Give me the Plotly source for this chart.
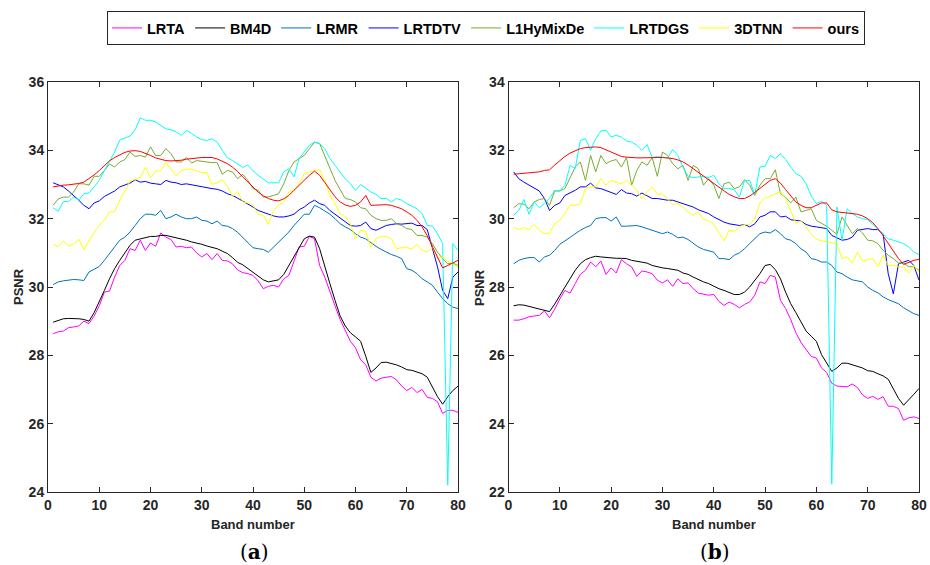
import plotly.graph_objects as go

bands = list(range(1, 81))
methods = ["LRTA", "BM4D", "LRMR", "LRTDTV", "L1HyMixDe", "LRTDGS", "3DTNN", "ours"]
colors = ["#FF00FF", "#000000", "#0072BD", "#0000FF", "#77AC30", "#00FFFF", "#FFFF00", "#FF0000"]

# ---------------- panel (a) ----------------
a_LRTA = [28.63, 28.69, 28.71, 28.81, 28.83, 28.86, 29.0, 28.93, 29.15, 29.45,
          29.85, 29.88, 30.29, 30.63, 30.78, 31.12, 31.07, 31.37, 31.07, 31.29,
          31.19, 31.58, 31.46, 31.39, 31.17, 31.19, 31.15, 31.17, 31.0, 30.88,
          30.98, 30.8, 30.98, 30.78, 30.76, 30.68, 30.5, 30.42, 30.39, 30.34,
          30.18, 29.95, 30.02, 30.05, 30.0, 30.24, 30.34, 30.73, 31.17, 31.19,
          31.48, 31.41, 30.63, 30.29, 29.85, 29.45, 29.05, 28.71, 28.41, 28.22,
          27.87, 27.72, 27.36, 27.25, 27.33, 27.36, 27.38, 27.28, 27.1, 26.97,
          27.06, 26.91, 27.0, 26.77, 26.74, 26.64, 26.3, 26.39, 26.39, 26.33]
a_BM4D = [28.97, 29.03, 29.07, 29.08, 29.08, 29.07, 29.05, 29.0, 29.25, 29.6,
          29.9, 30.24, 30.54, 30.78, 31.02, 31.22, 31.37, 31.41, 31.44, 31.48,
          31.48, 31.51, 31.51, 31.48, 31.44, 31.41, 31.37, 31.32, 31.29, 31.25,
          31.2, 31.17, 31.12, 31.05, 30.98, 30.86, 30.72, 30.65, 30.54, 30.41,
          30.31, 30.21, 30.15, 30.17, 30.21, 30.37, 30.63, 30.88, 31.17, 31.41,
          31.49, 31.46, 31.12, 30.59, 30.1, 29.61, 29.15, 28.86, 28.66, 28.54,
          28.41, 27.97, 27.5, 27.63, 27.79, 27.8, 27.77, 27.72, 27.66, 27.58,
          27.56, 27.51, 27.46, 27.36, 27.06, 26.79, 26.57, 26.79, 26.97, 27.1]
a_LRMR = [30.07, 30.15, 30.18, 30.21, 30.22, 30.21, 30.19, 30.44, 30.52, 30.6,
          30.78, 30.98, 31.17, 31.37, 31.46, 31.61, 31.8, 32.0, 32.13, 32.13,
          32.1, 32.24, 32.0, 32.05, 32.13, 32.05, 32.0, 32.0, 32.05, 31.95,
          31.93, 31.85, 31.93, 31.8, 31.78, 31.71, 31.6, 31.45, 31.29, 31.15,
          31.12, 31.1, 31.02, 31.17, 31.32, 31.46, 31.61, 31.8, 31.97, 32.13,
          32.13, 32.39, 32.32, 32.22, 32.13, 32.0, 31.85, 31.76, 31.68, 31.56,
          31.46, 31.41, 31.29, 31.19, 31.1, 31.02, 30.95, 30.9, 30.83, 30.54,
          30.49, 30.39, 30.24, 30.15, 30.05, 29.85, 29.66, 29.51, 29.41, 29.37]
a_LRTDTV = [33.05, 33.0, 32.93, 32.81, 32.68, 32.54, 32.39, 32.29, 32.46, 32.52,
            32.65, 32.73, 32.81, 32.93, 32.98, 33.04, 33.14, 33.07, 33.09, 33.04,
            33.02, 33.0, 33.12, 33.07, 33.05, 33.0, 33.02, 32.99, 32.95, 32.93,
            32.91, 32.88, 32.86, 32.81, 32.73, 32.68, 32.6, 32.52, 32.44, 32.34,
            32.24, 32.18, 32.13, 32.08, 32.05, 32.05, 32.08, 32.13, 32.26, 32.34,
            32.46, 32.54, 32.44, 32.39, 32.24, 32.13, 32.0, 31.9, 31.8, 31.78,
            31.8, 31.9, 31.71, 31.66, 31.73, 31.8, 31.83, 31.85, 31.84, 31.85,
            31.87, 31.8, 31.8, 31.68, 31.12, 30.59, 29.9, 29.66, 30.29, 30.44]
a_L1HyMixDe = [32.39, 32.58, 32.63, 32.63, 32.78, 33.02, 33.02, 32.98, 33.24, 33.24,
               33.41, 33.6, 33.51, 33.66, 33.73, 33.95, 33.82, 33.85, 33.8, 34.1,
               33.85, 33.85, 34.05, 33.9, 33.66, 33.66, 33.79, 33.63, 33.7, 33.69,
               33.66, 33.64, 33.64, 33.3, 33.41, 33.37, 33.17, 33.3, 33.12, 32.88,
               32.83, 32.63, 32.64, 32.68, 32.73, 33.02, 33.41, 33.66, 33.76, 33.85,
               34.05, 34.24, 34.2, 33.85, 33.46, 33.12, 32.85, 32.59, 32.56, 32.49,
               32.32, 32.29, 32.1, 32.0, 31.95, 31.95, 32.0, 31.85, 31.8, 31.71,
               31.68, 31.51, 31.51, 31.46, 31.27, 31.02, 30.83, 30.68, 30.7, 30.63]
a_LRTDGS = [32.32, 32.22, 32.5, 32.5, 32.63, 32.54, 32.73, 32.75, 32.93, 33.12,
            33.41, 33.69, 33.95, 34.3, 34.35, 34.42, 34.6, 34.95, 34.88, 34.88,
            34.83, 34.73, 34.63, 34.6, 34.54, 34.44, 34.58, 34.5, 34.39, 34.31,
            34.29, 34.34, 34.24, 34.0, 33.78, 33.7, 33.6, 33.5, 33.57, 33.4,
            33.27, 33.17, 33.05, 33.05, 33.05, 33.37, 33.46, 33.22, 33.76, 33.95,
            34.15, 34.24, 34.2, 34.05, 33.76, 33.56, 33.37, 33.17, 33.02, 32.83,
            33.0, 32.88, 32.78, 32.71, 32.59, 32.59, 32.49, 32.59, 32.54, 32.44,
            32.36, 32.29, 32.15, 31.8, 31.78, 31.56, 31.27, 24.2, 31.27, 31.07]
a_3DTNN = [31.25, 31.18, 31.35, 31.2, 31.25, 31.4, 31.1, 31.35, 31.6, 31.8,
           31.95, 32.2, 32.2, 32.55, 32.8, 33.1, 33.15, 33.2, 33.5, 33.2,
           33.4, 33.4, 33.65, 33.45, 33.25, 33.4, 33.45, 33.45, 33.4, 33.35,
           33.35, 33.0, 33.05, 33.15, 32.95, 32.65, 32.8, 32.49, 32.46, 32.39,
           32.13, 32.1, 31.83, 32.24, 32.39, 32.49, 32.78, 32.83, 33.02, 33.32,
           33.37, 33.41, 33.43, 33.12, 32.68, 32.44, 32.15, 32.05, 31.85, 31.41,
           31.66, 31.63, 31.17, 31.41, 31.48, 31.48, 31.41, 31.12, 31.15, 31.15,
           31.12, 31.25, 31.07, 31.02, 31.17, 30.83, 30.88, 30.76, 30.68, 30.59]
a_ours = [32.93, 32.96, 32.98, 32.99, 33.0, 33.03, 33.07, 33.17, 33.28, 33.41,
          33.56, 33.69, 33.79, 33.87, 33.94, 33.98, 33.99, 33.97, 33.92, 33.85,
          33.78, 33.73, 33.7, 33.69, 33.69, 33.71, 33.74, 33.76, 33.78, 33.79,
          33.79, 33.79, 33.75, 33.69, 33.61, 33.51, 33.38, 33.22, 33.07, 32.92,
          32.78, 32.67, 32.59, 32.54, 32.52, 32.58, 32.68, 32.83, 32.98, 33.13,
          33.27, 33.39, 33.27, 33.06, 32.83, 32.64, 32.49, 32.4, 32.36, 32.39,
          32.49, 32.68, 32.39, 32.4, 32.41, 32.41, 32.39, 32.35, 32.29, 32.2,
          32.1, 31.95, 31.76, 31.5, 31.17, 30.88, 30.56, 30.63, 30.7, 30.78]

# ---------------- panel (b) ----------------
b_LRTA = [27.03, 27.03, 27.07, 27.13, 27.15, 27.17, 27.3, 27.1, 27.35, 27.65,
          27.9, 27.82, 28.1, 28.37, 28.49, 28.73, 28.59, 28.76, 28.37, 28.56,
          28.41, 28.8, 28.68, 28.59, 28.31, 28.47, 28.44, 28.39, 28.2, 28.12,
          28.21, 28.02, 28.24, 28.1, 28.12, 27.95, 27.82, 27.8, 27.76, 27.78,
          27.58, 27.46, 27.56, 27.49, 27.39, 27.49, 27.56, 27.76, 28.15, 28.1,
          28.34, 28.29, 27.61, 27.37, 27.05, 26.66, 26.38, 26.17, 25.97, 25.92,
          25.63, 25.5, 25.18, 25.1, 25.08, 25.08, 25.16, 25.06, 24.84, 24.74,
          24.8, 24.71, 24.79, 24.51, 24.51, 24.44, 24.1, 24.17, 24.2, 24.15]
b_BM4D = [27.45, 27.48, 27.47, 27.43, 27.4, 27.37, 27.33, 27.28, 27.5, 27.74,
          28.0, 28.24, 28.49, 28.68, 28.8, 28.86, 28.9, 28.88, 28.86, 28.85,
          28.84, 28.84, 28.83, 28.78, 28.76, 28.73, 28.7, 28.63, 28.59, 28.56,
          28.54, 28.51, 28.49, 28.41, 28.37, 28.29, 28.21, 28.15, 28.1, 28.02,
          27.95, 27.9, 27.85, 27.78, 27.78, 27.85, 28.0, 28.2, 28.39, 28.63,
          28.66, 28.51, 28.24, 27.85, 27.51, 27.25, 26.96, 26.71, 26.56, 26.41,
          26.02, 25.77, 25.53, 25.63, 25.77, 25.77, 25.72, 25.67, 25.63, 25.55,
          25.53, 25.46, 25.4, 25.3, 25.03, 24.74, 24.54, 24.69, 24.86, 25.03]
b_LRMR = [28.68, 28.78, 28.83, 28.86, 28.86, 28.73, 28.88, 28.93, 29.07, 29.25,
          29.35, 29.46, 29.56, 29.66, 29.74, 29.8, 30.0, 30.03, 30.03, 29.93,
          30.05, 29.78, 29.78, 29.8, 29.8, 29.76, 29.71, 29.66, 29.61, 29.56,
          29.61, 29.54, 29.44, 29.46, 29.39, 29.29, 29.17, 29.1, 29.07, 29.02,
          28.83, 28.83, 28.8, 28.93, 29.0, 29.12, 29.27, 29.41, 29.56, 29.61,
          29.58, 29.68, 29.56, 29.41, 29.37, 29.27, 29.12, 29.02, 28.83, 28.8,
          28.73, 28.73, 28.63, 28.44, 28.39, 28.29, 28.21, 28.18, 28.15, 28.0,
          27.9, 27.83, 27.71, 27.63, 27.56, 27.51, 27.39, 27.3, 27.22, 27.17]
b_LRTDTV = [31.37, 31.17, 31.07, 30.98, 30.88, 30.81, 30.59, 30.24, 30.39, 30.46,
            30.68, 30.75, 30.83, 30.93, 30.93, 31.04, 30.9, 30.88, 30.83, 30.78,
            30.71, 30.85, 30.75, 30.73, 30.66, 30.75, 30.68, 30.59, 30.59, 30.56,
            30.54, 30.54, 30.49, 30.44, 30.39, 30.34, 30.26, 30.2, 30.15, 30.05,
            29.97, 29.9, 29.85, 29.83, 29.8, 29.83, 29.76, 29.85, 30.05, 30.1,
            30.2, 30.2, 30.05, 30.07, 29.97, 29.95, 29.93, 29.83, 29.78, 29.76,
            29.74, 29.71, 29.51, 29.44, 29.37, 29.39, 29.46, 29.66, 29.68, 29.71,
            29.68, 29.68, 29.56, 28.39, 27.8, 28.68, 28.73, 28.78, 28.63, 28.2]
b_L1HyMixDe = [30.32, 30.44, 30.42, 30.29, 30.49, 30.56, 30.59, 30.39, 30.81, 30.81,
               30.88, 31.22, 31.51, 31.66, 31.12, 31.85, 31.37, 31.85, 31.61, 31.69,
               31.73, 31.51, 31.79, 30.98, 31.41, 31.66, 31.56, 31.79, 31.24, 31.95,
               31.85, 31.61, 31.46, 31.56, 31.12, 31.56, 31.46, 30.98, 31.17, 30.98,
               30.59, 31.02, 31.07, 30.88, 30.93, 31.14, 30.98, 30.68, 30.98, 31.17,
               31.17, 31.43, 30.73, 30.63, 30.46, 30.63, 30.2, 30.24, 30.29, 29.95,
               29.87, 29.78, 29.66, 29.54, 30.05, 29.8, 29.56, 29.71, 29.58, 29.37,
               29.35, 29.27, 29.07, 28.93, 28.83, 28.7, 28.7, 28.59, 28.6, 28.49]
b_LRTDGS = [30.1, 30.24, 30.56, 30.13, 30.49, 30.32, 30.44, 30.59, 30.83, 30.81,
            30.98, 31.56, 31.46, 32.29, 32.34, 32.0, 32.34, 32.57, 32.59, 32.39,
            32.44, 32.39, 32.27, 32.24, 32.15, 32.0, 32.17, 31.79, 31.82, 31.8,
            31.78, 32.02, 31.85, 31.51, 31.24, 31.2, 31.22, 31.24, 31.2, 31.27,
            31.02, 30.88, 30.88, 30.85, 30.63, 31.12, 31.12, 30.71, 31.51, 31.53,
            31.85, 31.76, 31.9, 31.73, 31.51, 31.32, 31.24, 31.02, 30.66, 30.44,
            30.51, 30.39, 22.23, 30.34, 29.37, 30.29, 30.15, 30.05, 30.0, 29.97,
            29.83, 29.68, 29.56, 29.41, 29.37, 29.32, 29.27, 29.17, 29.02, 28.95]
b_3DTNN = [29.76, 29.68, 29.74, 29.68, 29.83, 29.66, 29.56, 29.58, 29.85, 29.95,
           30.15, 30.39, 30.39, 30.44, 30.88, 30.93, 30.93, 31.17, 30.98, 31.12,
           31.07, 31.02, 31.12, 30.98, 30.83, 30.59, 30.78, 30.93, 30.71, 30.73,
           30.59, 30.42, 30.44, 30.34, 30.2, 30.1, 30.2, 29.97, 29.95, 29.83,
           29.58, 29.35, 29.66, 29.63, 29.76, 29.83, 29.83, 30.0, 30.46, 30.61,
           30.66, 30.73, 30.78, 30.59, 30.24, 29.87, 29.93, 29.76, 29.54, 29.41,
           29.35, 29.32, 29.29, 29.27, 28.83, 28.88, 28.7, 29.02, 28.76, 28.8,
           28.83, 28.59, 28.93, 28.63, 28.63, 28.59, 28.59, 28.41, 28.63, 28.44]
b_ours = [31.3, 31.31, 31.32, 31.33, 31.34, 31.37, 31.41, 31.43, 31.57, 31.71,
          31.82, 31.92, 31.99, 32.05, 32.08, 32.1, 32.1, 32.08, 32.02, 31.95,
          31.88, 31.82, 31.8, 31.78, 31.78, 31.78, 31.79, 31.79, 31.79, 31.79,
          31.78, 31.76, 31.72, 31.66, 31.57, 31.46, 31.35, 31.24, 31.14, 31.04,
          30.93, 30.82, 30.71, 30.64, 30.59, 30.59, 30.66, 30.77, 30.88, 31.0,
          31.12, 31.17, 31.04, 30.85, 30.66, 30.49, 30.39, 30.32, 30.32, 30.39,
          30.46, 30.46, 30.26, 30.2, 30.18, 30.17, 30.15, 30.13, 30.08, 30.0,
          29.88, 29.71, 29.5, 29.27, 29.05, 28.83, 28.66, 28.73, 28.78, 28.81]

panel_a = [a_LRTA, a_BM4D, a_LRMR, a_LRTDTV, a_L1HyMixDe, a_LRTDGS, a_3DTNN, a_ours]
panel_b = [b_LRTA, b_BM4D, b_LRMR, b_LRTDTV, b_L1HyMixDe, b_LRTDGS, b_3DTNN, b_ours]

x_ticks = [0, 10, 20, 30, 40, 50, 60, 70, 80]
a_yticks = [24, 26, 28, 30, 32, 34, 36]
b_yticks = [22, 24, 26, 28, 30, 32, 34]

W, H = 930, 565
fig = go.Figure()
for name, col, ya, yb in zip(methods, colors, panel_a, panel_b):
    fig.add_trace(go.Scatter(x=bands, y=ya, mode="lines", name=name,
                             line=dict(color=col, width=1), xaxis="x", yaxis="y",
                             legendgroup=name))
    fig.add_trace(go.Scatter(x=bands, y=yb, mode="lines", name=name,
                             line=dict(color=col, width=1), xaxis="x2", yaxis="y2",
                             legendgroup=name, showlegend=False))

tickfont = dict(family="Liberation Sans, Arial", size=14, color="#262626", weight="bold")
axcommon = dict(showline=True, linecolor="#262626", linewidth=1, mirror="ticks",
                ticks="inside", ticklen=5, tickcolor="#262626", showgrid=False,
                zeroline=False, tickfont=tickfont, automargin=False)

yb0, yb1 = (H - 492) / H, (H - 82) / H
fig.update_layout(
    width=W, height=H, margin=dict(l=0, r=0, t=0, b=0, pad=0, autoexpand=False),
    paper_bgcolor="white", plot_bgcolor="white",
    xaxis=dict(domain=[48 / W, 458 / W], range=[0, 80], tickvals=x_ticks, anchor="y", **axcommon),
    yaxis=dict(domain=[yb0, yb1], range=[24, 36], tickvals=a_yticks, anchor="x", **axcommon),
    xaxis2=dict(domain=[508.5 / W, 919 / W], range=[0, 80], tickvals=x_ticks, anchor="y2", **axcommon),
    yaxis2=dict(domain=[yb0, yb1], range=[22, 34], tickvals=b_yticks, anchor="x2", **axcommon),
    legend=dict(orientation="h", x=107 / W, xanchor="left", y=1 - 11 / H, yanchor="top",
                bordercolor="#262626", borderwidth=1, bgcolor="white",
                font=dict(family="Liberation Sans, Arial", size=14.5, color="#000000", weight="bold"),
                itemwidth=30, tracegroupgap=0),
    showlegend=True,
)

lab = dict(family="Liberation Sans, Arial", size=13, color="#262626", weight="bold")
ann = [
    dict(x=253 / W, y=1 - 524 / H, text="Band number", showarrow=False, font=lab,
         xref="paper", yref="paper", xanchor="center", yanchor="middle"),
    dict(x=714 / W, y=1 - 524 / H, text="Band number", showarrow=False, font=lab,
         xref="paper", yref="paper", xanchor="center", yanchor="middle"),
    dict(x=18 / W, y=1 - 287 / H, text="PSNR", showarrow=False, font=lab, textangle=-90,
         xref="paper", yref="paper", xanchor="center", yanchor="middle"),
    dict(x=479 / W, y=1 - 287 / H, text="PSNR", showarrow=False, font=lab, textangle=-90,
         xref="paper", yref="paper", xanchor="center", yanchor="middle"),
    dict(x=254 / W, y=1 - 552 / H, text="(<b>a</b>)", showarrow=False,
         font=dict(family="DejaVu Serif, Liberation Serif", size=20, color="#000000"),
         xref="paper", yref="paper", xanchor="center", yanchor="middle"),
    dict(x=715 / W, y=1 - 552 / H, text="(<b>b</b>)", showarrow=False,
         font=dict(family="DejaVu Serif, Liberation Serif", size=20, color="#000000"),
         xref="paper", yref="paper", xanchor="center", yanchor="middle"),
]
fig.update_layout(annotations=ann)

fig.write_html("out.html")
